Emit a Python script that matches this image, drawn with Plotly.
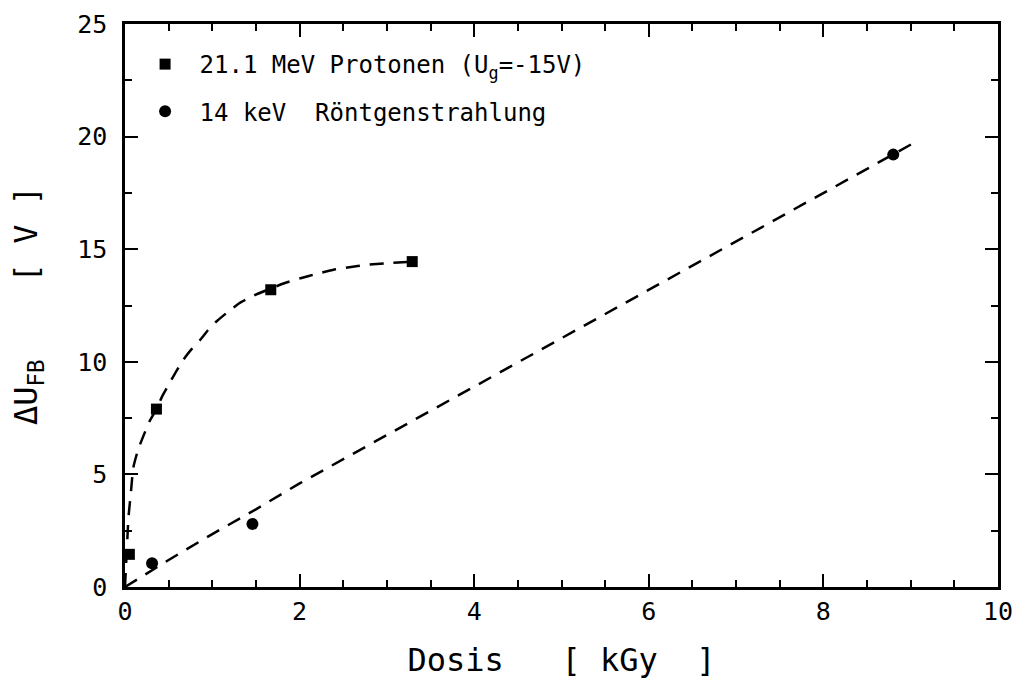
import plotly.graph_objects as go

# Measured points
proton_x = [0.05, 0.36, 1.67, 3.29]
proton_y = [1.45, 7.9, 13.2, 14.45]
xray_x = [0.31, 1.46, 8.8]
xray_y = [1.05, 2.8, 19.2]

# Dashed guide curves
proton_fit_x = [0.0, 0.02, 0.04, 0.07, 0.095, 0.15, 0.21, 0.28, 0.36, 0.43, 0.51, 0.59, 0.67, 0.76, 0.86,
                0.95, 1.05, 1.18, 1.31, 1.48, 1.67, 1.83, 2.0, 2.19, 2.38, 2.57, 2.76, 3.0, 3.29]
proton_fit_y = [0.0, 1.6, 3.1, 4.3, 5.3, 6.1, 6.7, 7.35, 7.9, 8.5, 9.05, 9.6, 10.1, 10.55, 10.97,
                11.4, 11.8, 12.22, 12.6, 12.95, 13.25, 13.5, 13.7, 13.9, 14.08, 14.2, 14.3, 14.38, 14.45]
xray_fit_x = [0.0, 0.5, 1.0, 1.5, 2.0, 3.0, 4.0, 5.0, 6.0, 7.0, 8.0, 9.05]
xray_fit_y = [0.0, 1.2, 2.35, 3.45, 4.6, 6.75, 8.9, 11.05, 13.2, 15.35, 17.5, 19.75]

x_ticks = [0, 2, 4, 6, 8, 10]
y_ticks = [0, 5, 10, 15, 20, 25]

NB = "\u00a0"
label_proton = NB + "21.1 MeV Protonen (U<sub>g</sub>=-15V)"
label_xray = NB + "14 keV  Röntgenstrahlung"

FONT = "DejaVu Sans Mono"
fig = go.Figure()

fig.add_trace(go.Scatter(x=proton_fit_x, y=proton_fit_y, mode="lines",
                         line=dict(color="black", width=2.5, dash="14px,10px",
                                   shape="spline", smoothing=0.5),
                         showlegend=False, hoverinfo="skip"))
fig.add_trace(go.Scatter(x=xray_fit_x, y=xray_fit_y, mode="lines",
                         line=dict(color="black", width=2.5, dash="14px,10px"),
                         showlegend=False, hoverinfo="skip"))
fig.add_trace(go.Scatter(x=proton_x, y=proton_y, mode="markers", name=label_proton,
                         marker=dict(symbol="square", size=11, color="black"),
                         legendgroup="p"))
fig.add_trace(go.Scatter(x=xray_x, y=xray_y, mode="markers", name=label_xray,
                         marker=dict(symbol="circle", size=12, color="black"),
                         legendgroup="x"))

axis_common = dict(
    showgrid=False, zeroline=False, showline=True, linecolor="black", linewidth=2.5,
    mirror="allticks", ticks="inside", ticklen=13, tickwidth=2, tickcolor="black",
    tickfont=dict(family=FONT, size=25, color="black"), automargin=False,
    ticklabeloverflow="allow",
)

fig.update_xaxes(range=[0, 10], tickvals=x_ticks, ticktext=[str(v) for v in x_ticks],
                 minor=dict(ticks="inside", ticklen=7, tickwidth=2, dtick=0.5, tickcolor="black"),
                 title=dict(text="Dosis   [ kGy  ]", font=dict(family=FONT, size=32, color="black"),
                            standoff=24),
                 ticklabelstandoff=0,
                 **axis_common)
fig.update_yaxes(range=[0, 25], tickvals=y_ticks, ticktext=[str(v) for v in y_ticks],
                 minor=dict(ticks="inside", ticklen=7, tickwidth=2, dtick=2.5, tickcolor="black"),
                 title=dict(text="ΔU<sub>FB</sub>" + NB * 4 + "[ V ]",
                            font=dict(family=FONT, size=32, color="black"),
                            standoff=30),
                 ticklabelstandoff=10,
                 **axis_common)

fig.update_layout(
    width=1014, height=688,
    margin=dict(l=125, r=16, t=24, b=101),
    paper_bgcolor="white", plot_bgcolor="white",
    font=dict(family=FONT, color="black"),
    legend=dict(x=0.023, y=0.968, xanchor="left", yanchor="top",
                font=dict(family=FONT, size=24, color="black"),
                bgcolor="rgba(0,0,0,0)", tracegroupgap=13, traceorder="grouped"),
)

fig.write_html("out.html", config={"displayModeBar": False},
               post_script="document.body.style.margin='0';")
